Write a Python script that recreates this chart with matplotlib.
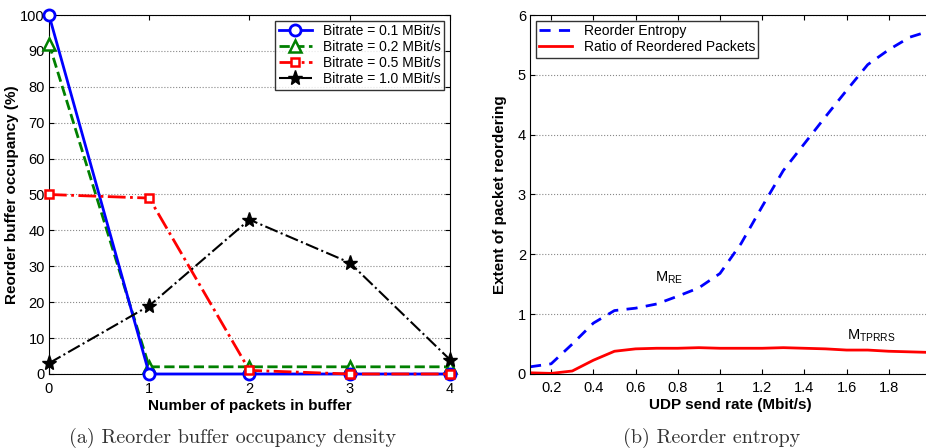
import numpy as np
import matplotlib.pyplot as plt

plt.rcParams['font.family'] = ['Liberation Sans', 'DejaVu Sans']
plt.rcParams['xtick.direction'] = 'in'
plt.rcParams['ytick.direction'] = 'in'

# (a) buffer occupancy
packets = [0, 1, 2, 3, 4]
occ_01 = [100, 0, 0, 0, 0]
occ_02 = [92, 2, 2, 2, 2]
occ_05 = [50, 49, 1, 0, 0]
occ_10 = [3, 19, 43, 31, 4]

# (b) reorder entropy
rate = [0.1, 0.2, 0.3, 0.4, 0.5, 0.6, 0.7, 0.8, 0.9, 1.0,
        1.1, 1.2, 1.3, 1.4, 1.5, 1.6, 1.7, 1.8, 1.9, 2.0]
entropy = [0.12, 0.17, 0.5, 0.85, 1.06, 1.1, 1.17, 1.3, 1.44, 1.68,
           2.18, 2.8, 3.4, 3.85, 4.3, 4.74, 5.17, 5.42, 5.63, 5.74]
ratio = [0.02, 0.01, 0.05, 0.23, 0.38, 0.42, 0.43, 0.43, 0.44, 0.43,
         0.43, 0.43, 0.44, 0.43, 0.42, 0.4, 0.4, 0.38, 0.37, 0.36]

fig = plt.figure(figsize=(9.26, 4.48), dpi=100)

ax1 = fig.add_axes([0.0529, 0.1652, 0.4330, 0.8013])
ax1.plot(packets, occ_01, 'b-o', lw=2, ms=8, mfc='white', mew=2, clip_on=False,
         zorder=4, label='Bitrate = 0.1 MBit/s')
ax1.plot(packets, occ_02, 'g--^', lw=2, ms=8, mfc='white', mew=1.8, color='#008000',
         clip_on=False, zorder=3, label='Bitrate = 0.2 MBit/s')
ax1.plot(packets, occ_05, 'r-.s', lw=2, ms=6, mfc='white', mew=1.8, clip_on=False,
         zorder=5, label='Bitrate = 0.5 MBit/s')
ax1.plot(packets, occ_10, 'k-.*', lw=1.5, ms=11, clip_on=False, zorder=6,
         label='Bitrate = 1.0 MBit/s')
ax1.set_xlim(0, 4)
ax1.set_ylim(0, 100)
ax1.set_xticks(packets)
ax1.set_yticks(range(0, 101, 10))
ax1.yaxis.grid(True, linestyle=':', color='#888888', lw=0.8)
ax1.tick_params(top=True, right=True, labelsize=10.5, pad=3)
ax1.tick_params(axis='x', pad=6)
ax1.set_xlabel('Number of packets in buffer', fontsize=11, fontweight='bold', labelpad=2)
ax1.set_ylabel('Reorder buffer occupancy (%)', fontsize=11, fontweight='bold', labelpad=1)
leg1 = ax1.legend(loc='upper right', fontsize=10, fancybox=False, edgecolor='black',
                  borderaxespad=0.4, handlelength=2.4, labelspacing=0.15, borderpad=0.25)
leg1.get_frame().set_linewidth(1.0)
leg1.set_zorder(10)

ax2 = fig.add_axes([0.5724, 0.1652, 0.4330, 0.8013])
ax2.plot(rate, entropy, 'b--', lw=2, dashes=(4, 3), label='Reorder Entropy')
ax2.plot(rate, ratio, 'r-', lw=2, label='Ratio of Reordered Packets')
ax2.set_xlim(0.1, 2.0)
ax2.set_ylim(0, 6)
ax2.set_xticks([0.2, 0.4, 0.6, 0.8, 1.0, 1.2, 1.4, 1.6, 1.8])
ax2.set_xticklabels(['0.2', '0.4', '0.6', '0.8', '1', '1.2', '1.4', '1.6', '1.8'])
ax2.set_yticks(range(0, 7))
ax2.yaxis.grid(True, linestyle=':', color='#888888', lw=0.8)
ax2.tick_params(top=True, right=True, labelsize=10.5, pad=3)
ax2.tick_params(axis='x', pad=5)
ax2.set_xlabel('UDP send rate (Mbit/s)', fontsize=11, fontweight='bold', labelpad=2)
ax2.set_ylabel('Extent of packet reordering', fontsize=11, fontweight='bold', labelpad=8)
leg2 = ax2.legend(loc='upper left', fontsize=10, fancybox=False, edgecolor='black',
                  borderaxespad=0.4, handlelength=2.4, labelspacing=0.15, borderpad=0.25)
leg2.get_frame().set_linewidth(1.0)
ax2.text(0.69, 1.55, r'M$_{\mathregular{RE}}$', fontsize=10.5)
ax2.text(1.6, 0.58, r'M$_{\mathregular{TPRRS}}$', fontsize=10.5)

fig.text(0.2516, 0.012, '(a) Reorder buffer occupancy density', ha='center', fontsize=14.5,
         family='cmr10', color='#333333')
fig.text(0.768, 0.012, '(b) Reorder entropy', ha='center', fontsize=14.5,
         family='cmr10', color='#333333')

fig.savefig('out.png', dpi=100)
